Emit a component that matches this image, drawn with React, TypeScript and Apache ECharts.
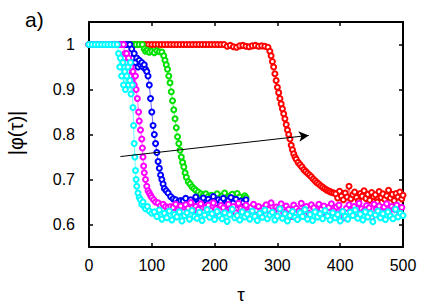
import React, { useEffect, useRef } from "react";
import * as echarts from "echarts";

type P = [number, number];

const xTicks = [0, 100, 200, 300, 400, 500];
const yTicks = [0.6, 0.7, 0.8, 0.9, 1];

const redData: P[] = [
  [0,1],[5,1],[10,1],[15,1],[20,1],[25,1],[30,1],[35,1],[40,1],[45,1],[50,1],[55,1],[60,1],[65,1],[70,1],[75,1],[80,1],[85,1],[90,1],[95,1],[100,1],
  [105,1],[110,1],[115,1],[120,1],[125,1],[130,1],[135,1],[140,1],[145,1],[150,1],[155,1],[160,1],[165,1],[170,1],[175,1],[180,1],[185,1],[190,1],[195,1],[200,1],[205,1],[210,1],[215,1],
  [220,0.996],[225,0.998],[230,0.995],[235,0.994],[240,0.997],[245,0.998],[250,0.996],[255,0.995],[260,0.997],[265,0.998],[270,0.996],[275,0.997],[280,0.996],[285,0.994],
  [288,0.985],[290,0.975],[292,0.962],[294,0.95],[296,0.935],[298,0.92],[300,0.905],[302,0.893],[304,0.88],[306,0.868],[308,0.857],[310,0.846],[312,0.835],[314,0.822],[316,0.81],[318,0.8],[320,0.79],[322,0.776],[324,0.766],[326,0.757],[328,0.75],[330,0.745],
  [333,0.738],[336,0.733],[339,0.728],[342,0.722],[345,0.718],[348,0.714],[351,0.71],[354,0.706],[357,0.701],[360,0.697],[363,0.693],[366,0.69],[369,0.686],[372,0.683],[375,0.68],[378,0.677],[381,0.675],[384,0.673],[387,0.671],[390,0.67],
  [393,0.668],[396,0.659],[399,0.674],[402,0.663],[405,0.655],[408,0.67],[411,0.661],[414,0.685],[417,0.657],[420,0.666],[423,0.672],[426,0.66],[429,0.652],[432,0.669],[435,0.663],[438,0.675],[441,0.658],[444,0.667],[447,0.654],[450,0.671],
  [453,0.662],[456,0.666],[459,0.65],[462,0.673],[465,0.66],[468,0.668],[471,0.656],[474,0.664],[477,0.676],[480,0.659],[483,0.667],[486,0.653],[489,0.669],[492,0.661],[495,0.672],[498,0.657],[500,0.665]
];

const greenData: P[] = [
  [0,1],[5,1],[10,1],[15,1],[20,1],[25,1],[30,1],[35,1],[40,1],[45,1],[50,1],[55,1],[60,1],[65,1],[70,1],[75,1],[80,1],[85,1],
  [88,0.99],[90,0.985],[93,0.987],[96,0.983],[100,0.985],[104,0.982],[108,0.986],[112,0.984],[116,0.983],[119,0.975],[121,0.965],[123,0.955],[125,0.945],[127,0.93],[129,0.915],
  [131,0.895],[133,0.875],[135,0.855],[137,0.835],[139,0.815],[141,0.795],[143,0.78],[145,0.765],[147,0.75],[149,0.738],[151,0.728],[153,0.715],[155,0.705],[158,0.695],[161,0.69],
  [164,0.684],[167,0.68],[170,0.676],[174,0.672],[178,0.668],[182,0.665],[186,0.668],[190,0.662],[195,0.665],[200,0.66],
  [204,0.668],[208,0.658],[212,0.664],[216,0.67],[220,0.656],[224,0.663],[228,0.667],[232,0.657],[236,0.669],[240,0.661],[244,0.655],[248,0.664],[250,0.66]
];

const blueData: P[] = [
  [0,1],[5,1],[10,1],[15,1],[20,1],[25,1],[30,1],[35,1],[40,1],[45,1],[50,1],[55,1],[60,1],[65,1],
  [68,0.99],[70,0.97],[72,0.98],[74,0.96],[76,0.97],[78,0.95],[80,0.965],[82,0.955],[84,0.96],[86,0.95],[88,0.955],[90,0.945],[92,0.94],
  [94,0.93],[96,0.91],[98,0.88],[100,0.85],[102,0.82],[104,0.8],[106,0.78],[108,0.76],[110,0.74],[112,0.725],[114,0.71],[116,0.7],[118,0.69],[120,0.68],
  [123,0.675],[126,0.67],[130,0.662],[134,0.657],[138,0.655],[142,0.65],[146,0.653],
  [150,0.652],[154,0.658],[158,0.645],[162,0.655],[166,0.649],[170,0.661],[174,0.647],[178,0.654],[182,0.659],[186,0.644],[190,0.656],[194,0.65],[198,0.662],
  [202,0.646],[206,0.655],[210,0.651],[214,0.658],[218,0.643],[222,0.653],[226,0.66],[230,0.648],[234,0.656],[238,0.645],[242,0.652],[246,0.649],[250,0.655]
];

const magentaData: P[] = [
  [0,1],[5,1],[10,1],[15,1],[20,1],[25,1],[30,1],[35,1],[40,1],[45,1],[50,1],[55,1],
  [57,0.98],[59,0.96],[60,0.98],[62,0.94],[63,0.97],[65,0.93],[67,0.95],[68,0.92],[70,0.94],[72,0.91],[74,0.93],[75,0.9],[77,0.88],[79,0.85],[80,0.83],[82,0.81],[84,0.79],
  [85,0.77],[86,0.75],[87,0.73],[88,0.715],[90,0.7],[92,0.685],[94,0.675],[96,0.67],[98,0.665],[100,0.66],[103,0.655],[106,0.65],[110,0.648],[114,0.642],[118,0.645],[122,0.64],[126,0.638],[130,0.64],
  [134,0.638],[138,0.645],[142,0.632],[146,0.641],[150,0.628],[154,0.644],[158,0.636],[162,0.649],[166,0.63],[170,0.64],[174,0.634],[178,0.646],[182,0.627],[186,0.639],[190,0.643],[194,0.631],[198,0.648],
  [202,0.635],[206,0.624],[210,0.642],[214,0.637],[218,0.629],[222,0.645],[226,0.633],[230,0.64],[234,0.626],[238,0.647],[242,0.636],[246,0.632],[250,0.643],[254,0.628],[258,0.638],[262,0.645],[266,0.631],
  [270,0.64],[274,0.622],[278,0.637],[282,0.644],[286,0.633],[290,0.648],[294,0.629],[298,0.639],[302,0.635],[306,0.646],[310,0.627],[314,0.641],[318,0.634],[322,0.618],[326,0.643],[330,0.636],[334,0.63],
  [338,0.647],[342,0.632],[346,0.64],[350,0.625],[354,0.644],[358,0.637],[362,0.629],[366,0.645],[370,0.634],[374,0.641],[378,0.62],[382,0.638],[386,0.646],[390,0.631],[394,0.639],[398,0.643],[402,0.628],
  [406,0.615],[410,0.636],[414,0.644],[418,0.632],[422,0.64],[426,0.626],[430,0.647],[434,0.635],[438,0.63],[442,0.642],[446,0.637],[450,0.616],[454,0.645],[458,0.633],[462,0.641],[466,0.628],[470,0.639],
  [474,0.646],[478,0.631],[482,0.64],[486,0.634],[490,0.643],[494,0.629],[498,0.638]
];

const cyanData: P[] = [
  [0,1],[5,1],[10,1],[15,1],[20,1],[25,1],[30,1],[35,1],[40,1],[45,1],
  [47,0.98],[49,0.95],[50,0.97],[52,0.93],[54,0.96],[55,0.91],[57,0.94],[58,0.9],[60,0.93],[62,0.95],[63,0.91],[65,0.92],[66,0.96],[67,0.89],[69,0.91],
  [70,0.86],[71,0.82],[72,0.78],[73,0.75],[74,0.72],[75,0.7],[76,0.685],[78,0.67],[80,0.66],[82,0.655],[84,0.645],[86,0.65],[88,0.64],[90,0.635],[93,0.64],[96,0.63],[100,0.625],
  [104,0.628],[108,0.618],[112,0.632],[116,0.612],[120,0.625],[124,0.615],[128,0.63],[132,0.61],[136,0.622],[140,0.617],[144,0.628],[148,0.608],[152,0.62],[156,0.626],[160,0.612],[164,0.631],[168,0.618],
  [172,0.614],[176,0.627],[180,0.609],[184,0.621],[188,0.633],[192,0.616],[196,0.624],[200,0.611],[204,0.629],[208,0.619],[212,0.613],[216,0.626],[220,0.607],[224,0.622],[228,0.634],[232,0.615],[236,0.62],
  [240,0.61],[244,0.628],[248,0.617],[252,0.623],[256,0.612],[260,0.63],[264,0.618],[268,0.609],[272,0.625],[276,0.616],[280,0.632],[284,0.613],[288,0.621],[292,0.627],[296,0.61],[300,0.619],[304,0.635],
  [308,0.614],[312,0.624],[316,0.608],[320,0.62],[324,0.629],[328,0.616],[332,0.611],[336,0.626],[340,0.618],[344,0.633],[348,0.612],[352,0.622],[356,0.609],[360,0.628],[364,0.617],[368,0.624],[372,0.613],
  [376,0.631],[380,0.619],[384,0.61],[388,0.626],[392,0.615],[396,0.622],[400,0.608],[404,0.629],[408,0.618],[412,0.612],[416,0.627],[420,0.62],[424,0.632],[428,0.614],[432,0.623],[436,0.61],[440,0.628],
  [444,0.617],[448,0.625],[452,0.606],[456,0.621],[460,0.63],[464,0.615],[468,0.624],[472,0.611],[476,0.628],[480,0.619],[484,0.613],[488,0.634],[492,0.617],[496,0.625],[500,0.62]
];

const arrowStart: P = [50, 0.751];
const arrowEnd: P = [350, 0.798];

const FONT = "Liberation Sans, Arial, sans-serif";

export default function App() {
  const ref = useRef<HTMLDivElement>(null);
  useEffect(() => {
    if (!ref.current) return;
    const chart = echarts.init(ref.current, null, { renderer: "svg" });
    const mk = (data: P[], color: string, extra: any = {}) => ({
      type: "line",
      data,
      xAxisIndex: 0,
      yAxisIndex: 0,
      symbol: "emptyCircle",
      symbolSize: 5,
      showSymbol: true,
      showAllSymbol: true,
      itemStyle: { color, borderColor: color, borderWidth: 1.2 },
      lineStyle: { color, width: 0.6 },
      emphasis: { disabled: true },
      silent: true,
      ...extra,
    });
    const commonX = {
      type: "value",
      min: 0,
      max: 500,
      interval: 100,
      axisLine: { show: true, onZero: false, lineStyle: { color: "#000", width: 2 } },
      axisTick: { show: true, inside: true, length: 4, lineStyle: { color: "#000", width: 1.5 } },
      splitLine: { show: false },
    };
    const commonY = {
      type: "value",
      min: 0.55,
      max: 1.05,
      axisLine: { show: true, onZero: false, lineStyle: { color: "#000", width: 2 } },
      axisTick: { show: true, inside: true, length: 4, customValues: yTicks, lineStyle: { color: "#000", width: 1.5 } },
      splitLine: { show: false },
    };
    chart.setOption({
      animation: false,
      grid: { left: 89, right: 33, top: 22, bottom: 58, containLabel: false },
      xAxis: [
        {
          ...commonX,
          position: "bottom",
          axisLabel: { show: true, fontFamily: FONT, fontSize: 16, color: "#000", margin: 10, customValues: xTicks },
        },
        { ...commonX, position: "top", axisLabel: { show: false } },
      ],
      yAxis: [
        {
          ...commonY,
          position: "left",
          axisLabel: {
            show: true,
            fontFamily: FONT,
            fontSize: 16,
            color: "#000",
            margin: 14,
            customValues: yTicks,
            formatter: (v: number) => (Math.abs(v - 1) < 1e-9 ? "1" : v.toFixed(1)),
          },
        },
        { ...commonY, position: "right", axisLabel: { show: false } },
      ],
      graphic: [
        { type: "text", left: 25, top: 9, style: { text: "a)", fontFamily: FONT, fontSize: 21, fill: "#000" } },
        { type: "text", x: 241, y: 294, style: { text: "τ", fontFamily: FONT, fontSize: 19, fill: "#000", align: "center", verticalAlign: "middle" } },
        { type: "text", x: 16, y: 133, rotation: Math.PI / 2, style: { text: "|φ(τ)|", fontFamily: FONT, fontSize: 20, fill: "#000", align: "center", verticalAlign: "middle" } },
      ],
      series: [
        mk(redData, "#ff0000"),
        mk(greenData, "#00e000"),
        mk(blueData, "#0000ff"),
        mk(magentaData, "#ff00ff"),
        mk(cyanData, "#00ffff", {
          markLine: {
            silent: true,
            animation: false,
            symbol: ["none", "arrow"],
            symbolSize: [8, 10],
            label: { show: false },
            lineStyle: { color: "#000", width: 1, type: "solid" },
            data: [[{ coord: arrowStart, symbol: "none" }, { coord: arrowEnd, symbol: "arrow" }]],
          },
        }),
      ],
    });
    return () => chart.dispose();
  }, []);
  return <div ref={ref} style={{ position: "absolute", left: 0, top: 0, width: 436, height: 305 }} />;
}
